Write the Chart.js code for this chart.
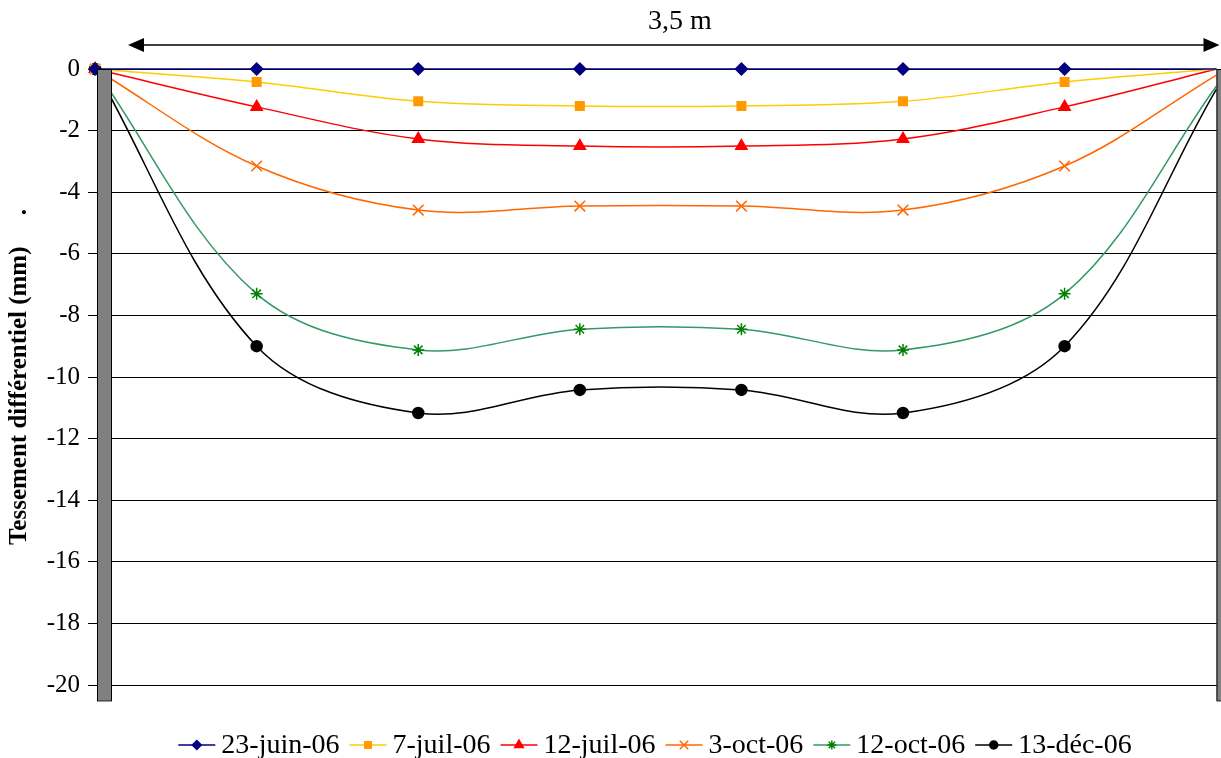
<!DOCTYPE html>
<html>
<head>
<meta charset="utf-8">
<script src="https://cdn.jsdelivr.net/npm/chart.js@4/dist/chart.umd.min.js"></script>
<style>
  body { margin: 0; background: #fff; }
  #wrap { width: 1221px; height: 758px; }
</style>
</head>
<body>
<div id="wrap"><canvas id="settlement" width="1221" height="758"></canvas></div>
<script>
// positions along the slab (m)
const positions = [0, 0.5, 1, 1.5, 2, 2.5, 3, 3.47];
const seriesLabels = ["23-juin-06", "7-juil-06", "12-juil-06", "3-oct-06", "12-oct-06", "13-déc-06"];
const juin23 = [0, 0, 0, 0, 0, 0, 0, 0];
const juil7 = [0, -0.42, -1.05, -1.2, -1.2, -1.05, -0.42, 0];
const juil12 = [0, -1.23, -2.27, -2.5, -2.5, -2.27, -1.23, 0];
const oct3 = [0, -3.15, -4.58, -4.45, -4.45, -4.58, -3.15, -0.2];
const oct12 = [0, -7.3, -9.12, -8.45, -8.45, -9.12, -7.3, -0.55];
const dec13 = [0, -9.0, -11.17, -10.42, -10.42, -11.17, -9.0, -0.65];
const yTicks = [0, -2, -4, -6, -8, -10, -12, -14, -16, -18, -20];

const serif = "'Liberation Serif', 'Times New Roman', serif";

const styles = [
  { line: "#000080", marker: "#000080", shape: "rectRot", r: 6 },
  { line: "#FFCC00", marker: "#FF9900", shape: "rect", r: 6 },
  { line: "#FF0000", marker: "#FF0000", shape: "triangle", r: 6.5 },
  { line: "#FF6600", marker: "#FF6600", shape: "crossRot", r: 7.5 },
  { line: "#339966", marker: "#008000", shape: "star", r: 6 },
  { line: "#000000", marker: "#000000", shape: "circle", r: 5.5 },
];
const allValues = [juin23, juil7, juil12, oct3, oct12, dec13];

const datasets = allValues.map((vals, i) => ({
  label: seriesLabels[i],
  data: vals.map((v, k) => ({ x: positions[k], y: v })),
  borderColor: styles[i].line,
  borderWidth: 1.5,
  backgroundColor: styles[i].marker,
  pointBorderColor: styles[i].marker,
  pointBackgroundColor: styles[i].marker,
  pointStyle: styles[i].shape,
  // last point sits behind the right post
  pointRadius: vals.map((v, k) => (k === vals.length - 1 ? 0 : styles[i].r)),
  pointBorderWidth: 1.5,
  tension: 0.35,
  showLine: true,
  clip: 10,
}));

// gray posts, span arrow and legend
const decorations = {
  id: "decorations",
  afterDatasetsDraw(chart) {
    const c = chart.ctx;
    const xs = chart.scales.x, ys = chart.scales.y;
    const top = ys.getPixelForValue(0);
    const bottom = ys.getPixelForValue(-20.5);
    const leftX = xs.getPixelForValue(0.006);
    const rightX = xs.getPixelForValue(positions[positions.length - 1]);
    c.save();
    c.fillStyle = "#808080";
    c.strokeStyle = "#000";
    c.lineWidth = 1;
    c.fillRect(leftX, top, 14, bottom - top);
    c.strokeRect(leftX + 0.5, top + 0.5, 14, bottom - top);
    c.fillRect(rightX, top, 20, bottom - top);
    c.strokeRect(rightX + 0.5, top + 0.5, 20, bottom - top);
    c.restore();
  },
  afterDraw(chart) {
    const c = chart.ctx;
    const xs = chart.scales.x;
    const x1 = xs.getPixelForValue(0.102);
    const x2 = xs.getPixelForValue(positions[positions.length - 1]) + 3;
    const y = 45;
    c.save();
    c.strokeStyle = "#000";
    c.fillStyle = "#000";
    c.lineWidth = 1.6;
    c.beginPath();
    c.moveTo(x1 + 10, y);
    c.lineTo(x2 - 10, y);
    c.stroke();
    c.beginPath();
    c.moveTo(x1, y); c.lineTo(x1 + 16, y - 7); c.lineTo(x1 + 16, y + 7); c.closePath();
    c.fill();
    c.beginPath();
    c.moveTo(x2, y); c.lineTo(x2 - 16, y - 7); c.lineTo(x2 - 16, y + 7); c.closePath();
    c.fill();
    c.font = "28px " + serif;
    c.textAlign = "center";
    c.textBaseline = "middle";
    c.fillText("3,5 m", 680, 22);

    // legend: line sample with marker, then label
    c.font = "28px " + serif;
    c.textAlign = "left";
    const sample = 37, gapText = 6, gapItem = 10;
    const widths = seriesLabels.map((t) => c.measureText(t).width);
    let total = 0;
    widths.forEach((w) => (total += sample + gapText + w + gapItem));
    total -= gapItem;
    let x = 655 - total / 2;
    const ly = 745;
    seriesLabels.forEach((t, i) => {
      const st = styles[i];
      c.strokeStyle = st.line;
      c.lineWidth = 1.5;
      c.beginPath();
      c.moveTo(x, ly);
      c.lineTo(x + sample, ly);
      c.stroke();
      c.fillStyle = st.marker;
      c.strokeStyle = st.marker;
      Chart.helpers.drawPoint(c, { pointStyle: st.shape, radius: st.r - 1.5, rotation: 0, borderWidth: 1.5 }, x + sample / 2, ly);
      c.fillStyle = "#000";
      c.fillText(t, x + sample + gapText, ly + 1);
      x += sample + gapText + widths[i] + gapItem;
    });
    c.restore();
  },
};

const ctx = document.getElementById("settlement").getContext("2d");
new Chart(ctx, {
  type: "scatter",
  data: { datasets: datasets },
  plugins: [decorations],
  options: {
    responsive: false,
    animation: false,
    layout: { autoPadding: false, padding: { top: 69, bottom: 73, left: 0, right: 0 } },
    plugins: { legend: { display: false }, tooltip: { enabled: false } },
    scales: {
      x: { type: "linear", min: 0.006, max: 3.484, display: false },
      y: {
        min: -20,
        max: 0,
        afterBuildTicks: (scale) => {
          scale.ticks = yTicks.map((v) => ({ value: v }));
        },
        afterFit: (scale) => {
          scale.width = 97;
        },
        ticks: { color: "#000", font: { family: serif, size: 25 }, padding: 8 },
        grid: { color: "#000", lineWidth: 1, tickLength: 9 },
        border: { display: false },
        title: {
          display: true,
          text: "Tessement différentiel (mm)     .",
          color: "#000",
          font: { family: serif, size: 25, weight: "bold" },
          padding: { top: 5, bottom: 0 },
        },
      },
    },
  },
});
</script>
</body>
</html>
